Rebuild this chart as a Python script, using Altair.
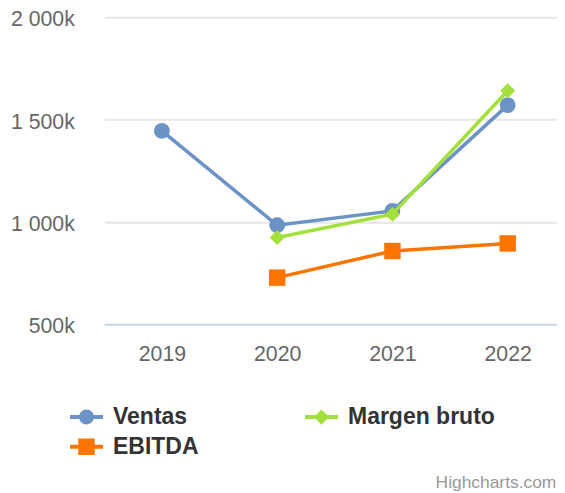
import altair as alt
import pandas as pd

years = ["2019", "2020", "2021", "2022"]
series_names = ["Ventas", "Margen bruto", "EBITDA"]
colors = ["#6b93c6", "#a3e03b", "#fb7500"]
ventas = [1445, 984, 1054, 1571]
margen = [None, 924, 1038, 1641]
ebitda = [None, 728, 858, 895]
y_ticks = [500, 1000, 1500, 2000]
# legend entries (Vega fills legend columns top to bottom)
legend_order = ["Ventas", "EBITDA", "Margen bruto"]

rows = []
for name, col, vals in zip(series_names, colors, [ventas, margen, ebitda]):
    for yr, v in zip(years, vals):
        if v is not None:
            rows.append({"year": yr, "value": v, "serie": name, "col": col})
df = pd.DataFrame(rows)

FONT = "Liberation Sans"
W, H = 452.7, 307

x_enc = alt.X(
    "year:O",
    scale=alt.Scale(type="point", padding=0.5, domain=years, range=[0, 461]),
    axis=alt.Axis(
        title=None, labelAngle=0, ticks=False, tickSize=0, grid=False,
        domainColor="#ccd6eb", domainWidth=2,
        labelFont=FONT, labelFontSize=21.3, labelColor="#666666",
        labelPadding=19,
    ),
)
y_enc = alt.Y(
    "value:Q",
    scale=alt.Scale(domain=[500, 2000], nice=False, zero=False),
    axis=alt.Axis(
        title=None, values=y_ticks, domain=False, ticks=False, tickSize=0,
        grid=True, gridColor="#e6e6e6", gridWidth=2,
        labelFont=FONT, labelFontSize=21.3, labelColor="#666666",
        labelPadding=30, labelBaseline="middle", labelOffset=2.5,
        labelExpr="replace(format(datum.value, ',d'), ',', ' ') + 'k'",
    ),
)

marker_shapes = ["circle", "diamond", "square"]
marker_sizes = [250, 225, 270]

layers = []
for name, shp, sz in zip(series_names, marker_shapes, marker_sizes):
    base = alt.Chart(df).transform_filter(alt.datum.serie == name)
    line = base.mark_line(strokeWidth=3.5).encode(
        x=x_enc, y=y_enc,
        stroke=alt.Stroke("col:N", scale=None),
    )
    pts = base.mark_point(filled=True, shape=shp, size=sz, opacity=1, strokeWidth=0).encode(
        x=x_enc, y=y_enc,
        fill=alt.Fill("col:N", scale=None),
    )
    layers += [line, pts]

# legend symbols: line segment + marker
t = 0.12
bar = f"M-1,-{t}H1V{t}H-1Z"
leg_paths = {
    "Ventas": bar + "M-0.45,0A0.45,0.45,0,1,1,0.45,0A0.45,0.45,0,1,1,-0.45,0Z",
    "Margen bruto": bar + "M0,-0.46L0.46,0L0,0.46L-0.46,0Z",
    "EBITDA": bar + "M-0.5,-0.5H0.5V0.5H-0.5Z",
}
color_of = dict(zip(series_names, colors))

def leg():
    return alt.Legend(
        title=None, orient="none", legendX=-34.3, legendY=383,
        columns=2, columnPadding=106, rowPadding=1,
        symbolSize=1089, symbolStrokeWidth=0, symbolOpacity=1,
        labelFont=FONT, labelFontSize=23, labelFontWeight="bold",
        labelColor="#333333", labelOffset=10, labelLimit=400,
    )

legend_layer = alt.Chart(df).transform_filter("false").mark_point(
    filled=True, opacity=1
).encode(
    x=x_enc, y=y_enc,
    color=alt.Color(
        "serie:N",
        scale=alt.Scale(domain=legend_order, range=[color_of[s] for s in legend_order]),
        legend=leg(),
    ),
    shape=alt.Shape(
        "serie:N",
        scale=alt.Scale(domain=legend_order, range=[leg_paths[s] for s in legend_order]),
        legend=leg(),
    ),
)

credit_df = pd.DataFrame({"t": ["Highcharts.com"]})
credit = alt.Chart(credit_df).mark_text(
    align="right", baseline="middle", font=FONT, fontSize=17.4, color="#999999"
).encode(x=alt.value(452), y=alt.value(465.7), text="t:N")

chart = alt.layer(*layers, legend_layer, credit).properties(
    width=W, height=H,
    autosize=alt.AutoSizeParams(type="none"),
    padding={"left": 96.3, "top": 9.3, "right": 0, "bottom": 168},
).configure_view(stroke=None)

chart.save("out.html", embed_options={"renderer": "svg", "actions": False})
